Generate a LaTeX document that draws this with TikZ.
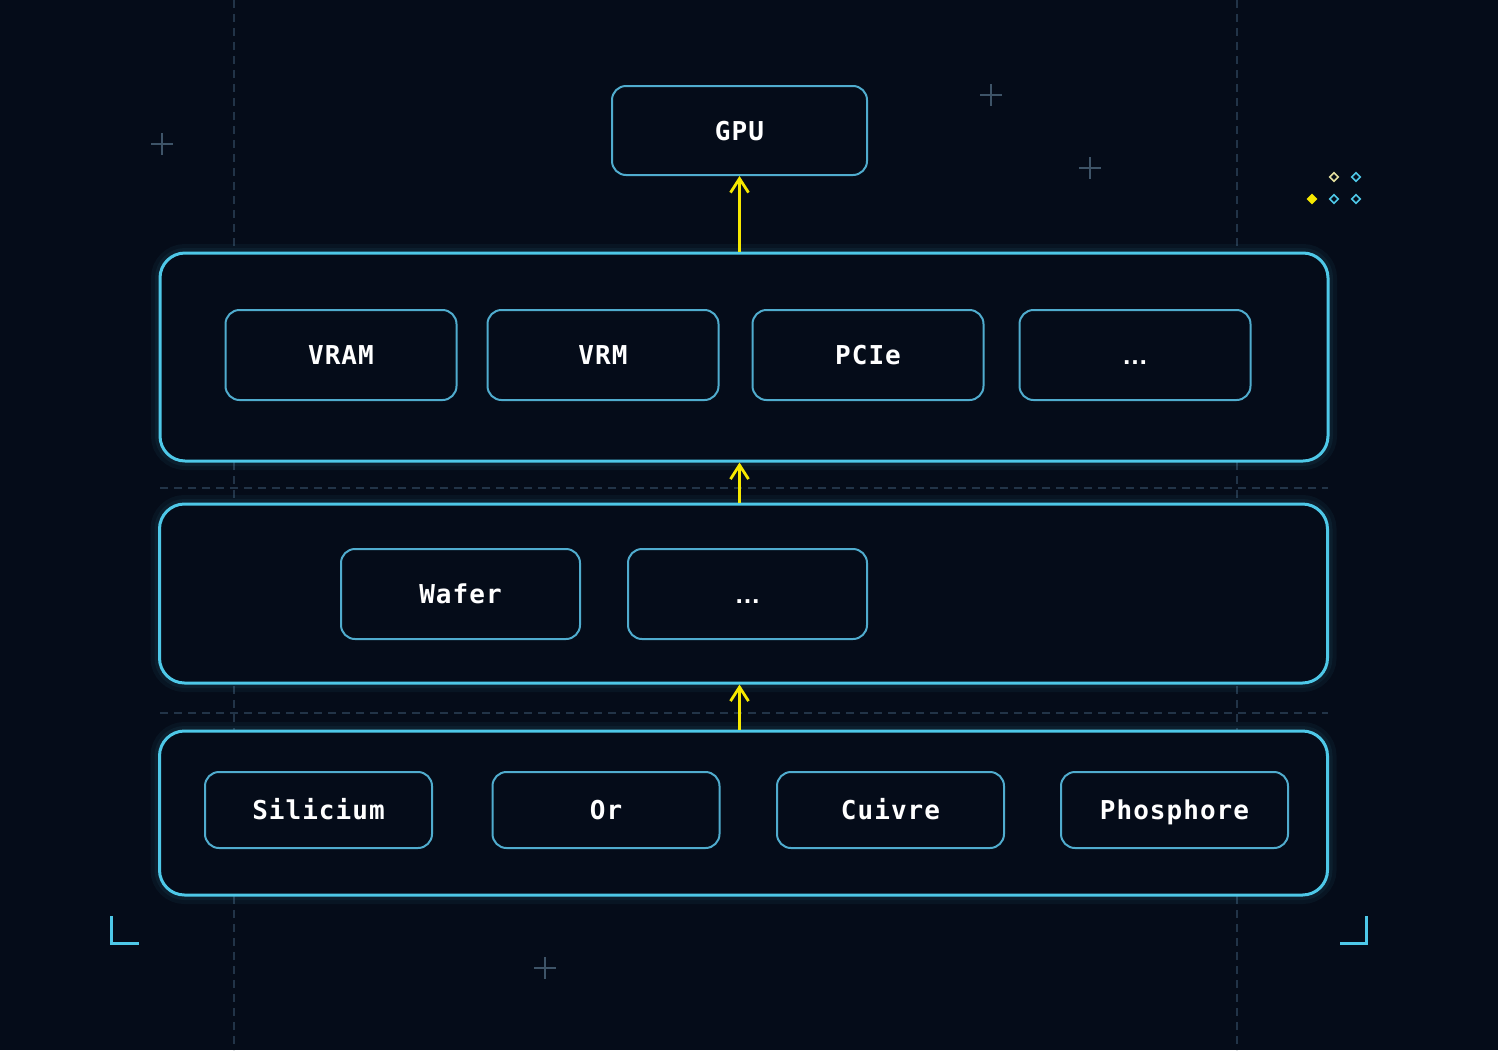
\documentclass[tikz,border=0pt]{standalone}
\usepackage{fontspec}
\newfontfamily\boxfont{DejaVu Sans Mono}[LetterSpace=4]
\newfontfamily\dotsfont{Liberation Sans}
\usetikzlibrary{arrows.meta}
\usetikzlibrary{shapes.geometric}

\definecolor{bg}{RGB}{5,12,25}
\definecolor{edge}{RGB}{78,200,232}
\definecolor{edgesoft}{RGB}{80,172,206}
\definecolor{guidecol}{RGB}{34,52,72}
\definecolor{crosscol}{RGB}{62,84,104}
\definecolor{volt}{RGB}{246,232,0}
\definecolor{pale}{RGB}{226,222,158}

\newcommand\more{{\dotsfont\bfseries …}}

\tikzset{
  layer/.style={draw=edge, line width=1.5pt, rounded corners=12.5pt, fill=bg,
    minimum width=584pt, inner sep=0pt,
    preaction={draw=edge, line width=9pt, opacity=0.05},
    preaction={draw=edge, line width=5pt, opacity=0.06}},
  part/.style={draw=edgesoft, line width=1pt, rounded corners=7pt, fill=bg,
    text=white, font=\boxfont\bfseries\fontsize{13}{15}\selectfont, inner sep=0pt,
    text height=9.5pt, text depth=0pt},
  gridline/.style={guidecol, line width=0.6pt, dash pattern=on 4pt off 3pt},
  feed/.style={volt, line width=1.4pt, -{Straight Barb[length=7pt,width=9pt]}},
  dot/.style={diamond, line width=0.8pt, minimum size=4.5pt, inner sep=0pt},
}

\begin{document}
\begin{tikzpicture}[x=0.5pt,y=-0.5pt]
  \useasboundingbox (0,0) rectangle (1498,1050);
  \fill[bg] (0,0) rectangle (1498,1050);

  % guides
  \foreach \x in {234,1237} {
    \draw[gridline] (\x,0) -- (\x,1050);
  }
  \foreach \y in {488,713} {
    \draw[gridline] (160,\y) -- (1328,\y);
  }

  % crosses
  \foreach \x/\y in {162/144, 991/95, 1090/168, 545/968} {
    \draw[crosscol, line width=0.7pt] (\x-11,\y) -- (\x+11,\y) (\x,\y-11) -- (\x,\y+11);
  }

  % corner marks
  \draw[edge, line width=1.5pt] (111,916) -- (111,943) -- (139,943);
  \draw[edge, line width=1.5pt] (1340,943) -- (1366,943) -- (1366,916);

  % dots
  \foreach \x/\y/\c [count=\i] in {1334/177/pale, 1356/177/edge, 1334/199/edge, 1356/199/edge} {
    \node[dot, draw=\c] (d\i) at (\x,\y) {};
  }
  \node[dot, draw=volt, fill=volt] (d0) at (1312,199) {};

  % layers
  \node[layer, minimum height=104pt] (l1) at (744,357) {};
  \node[layer, minimum height=89.5pt] (l2) at (743.5,593.5) {};
  \node[layer, minimum height=82pt] (l3) at (743.5,813) {};

  \node[part, minimum width=127.5pt, minimum height=44.5pt] (gpu) at (739.5,130.5) {GPU};

  \foreach \t/\x [count=\i] in {VRAM/341, VRM/603, PCIe/868, \more/1135} {
    \node[part, minimum width=115.5pt, minimum height=45pt] (a\i) at (\x,355) {\t};
  }
  \foreach \t/\x [count=\i] in {Wafer/460.5, \more/747.5} {
    \node[part, minimum width=119.5pt, minimum height=45pt] (b\i) at (\x,594) {\t};
  }
  \foreach \t/\x [count=\i] in {Silicium/318.5, Or/606, Cuivre/890.5, Phosphore/1174.5} {
    \node[part, minimum width=113.5pt, minimum height=38pt] (c\i) at (\x,810) {\t};
  }

  % arrows
  \draw[feed] (l1.north -| gpu.south) -- (gpu.south);
  \draw[feed] (l2.north -| gpu.south) -- (l1.south -| gpu.south);
  \draw[feed] (l3.north -| gpu.south) -- (l2.south -| gpu.south);
\end{tikzpicture}
\end{document}
